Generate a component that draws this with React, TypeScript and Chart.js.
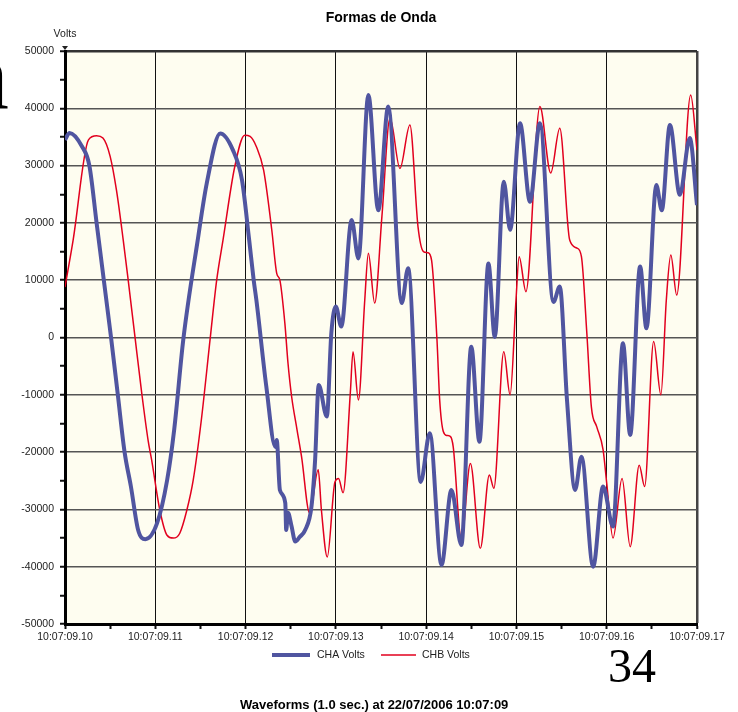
import React, { useEffect, useRef } from "react";
import { Chart, registerables } from "chart.js";

Chart.register(...registerables);

// time offsets in ms from 10:07:09.10
const chaTimes = [0, 0.5, 1.9, 2.7, 3.5, 4.3, 5.1, 5.85, 6.6, 7.3, 8.1, 8.9, 10.2, 11.3, 12.1, 13.1, 14.7, 15.7, 17.2, 18.6, 19.6, 20.4, 20.9, 21.2, 22.3, 23.3, 23.45, 23.8, 24.4, 24.5, 24.7, 25.1, 25.5, 26.0, 26.6, 27.3, 27.7, 28.1, 29.0, 29.5, 30.0, 30.6, 31.75, 32.5, 33.6, 34.7, 35.8, 37.3, 38.0, 39.4, 40.4, 41.7, 42.8, 43.9, 45.0, 45.9, 46.9, 47.6, 48.6, 49.3, 50.4, 51.5, 52.6, 54.1, 54.8, 55.6, 56.5, 57.2, 58.5, 59.6, 60.7, 61.8, 62.6, 63.7, 64.4, 65.5, 66.1, 67.0, 68.1, 69.2, 70];
const chaVolts = [34500, 35700, 33300, 30000, 20000, 10000, 0, -10000, -20000, -26000, -33600, -35200, -32400, -25000, -16000, -400, 17000, 26900, 35600, 32700, 27500, 17000, 10000, 6500, -8600, -19100, -17900, -26600, -28900, -33600, -30600, -33000, -35600, -34800, -33600, -29500, -21400, -8300, -13800, 800, 5400, 1900, 20500, 13800, 42300, 22200, 40300, 6000, 12100, -25200, -16700, -39700, -26600, -36200, -1600, -18200, 12900, 100, 27200, 18800, 37400, 23700, 37400, 6200, 8900, -10900, -26600, -20800, -40000, -26000, -33000, -1000, -17000, 12400, 1600, 26600, 22200, 37100, 24900, 34800, 23100];

const chbTimes = [0, 0.9, 2.6, 3.5, 4.2, 5.0, 5.7, 6.45, 7.0, 7.75, 8.5, 9.2, 9.6, 10.5, 11.3, 12.0, 12.7, 13.5, 14.2, 15.1, 16.1, 16.8, 17.5, 18.8, 19.9, 20.5, 21.2, 22.0, 22.9, 23.45, 23.8, 24.35, 24.7, 25.1, 25.7, 26.2, 27.1, 28.05, 28.4, 29.05, 29.9, 30.3, 30.8, 31.6, 31.9, 32.5, 33.2, 33.6, 34.3, 35.1, 36.0, 37.1, 38.2, 39.1, 39.7, 40.2, 40.6, 41.2, 41.5, 41.9, 42.3, 42.7, 43.0, 43.9, 44.9, 46.0, 47.0, 47.5, 48.6, 49.3, 49.95, 50.3, 51.05, 52.6, 53.8, 54.8, 55.9, 56.7, 57.2, 57.8, 58.3, 58.9, 59.6, 60.0, 60.7, 61.7, 62.6, 63.6, 64.2, 65.2, 66.0, 66.6, 67.1, 67.75, 69.3, 70];
const chbVolts = [8800, 17000, 34500, 35200, 34800, 31600, 25700, 17000, 10000, 100, -9700, -17900, -21400, -30100, -34500, -35000, -34200, -30100, -24900, -14400, 100, 10000, 17000, 29800, 35300, 35100, 33300, 29200, 18800, 11200, 10000, 2500, -4500, -10300, -16100, -20800, -30700, -23100, -30100, -38300, -25200, -24600, -27100, -9700, -2500, -10900, 6500, 14700, 6000, 21100, 38300, 29500, 37100, 19300, 15000, 14800, 13500, -400, -10900, -16400, -17100, -17300, -19100, -35300, -22000, -36800, -24000, -26300, -2500, -10000, 6500, 14100, 8000, 40300, 28700, 36500, 17000, 15600, 14100, 700, -12100, -15600, -19600, -25400, -35000, -24600, -36500, -22300, -26000, -700, -10000, 6500, 14400, 7400, 42300, 32700];

const xTickLabels = ["10:07:09.10", "10:07:09.11", "10:07:09.12", "10:07:09.13", "10:07:09.14", "10:07:09.15", "10:07:09.16", "10:07:09.17"];
const seriesNames = ["CHA Volts", "CHB Volts"];
const seriesColors = ["#5055A0", "#E2001E"];
const chartTitle = "Formas de Onda";
const yAxisTitle = "Volts";
const footerText = "Waveforms (1.0 sec.) at 22/07/2006 10:07:09";
const pageNumber = "34";

const toPoints = (xs: number[], ys: number[]) => xs.map((x, i) => ({ x, y: ys[i] }));

export default function App() {
  const ref = useRef<HTMLCanvasElement | null>(null);

  useEffect(() => {
    if (!ref.current) return;
    const decor = {
      id: "decor",
      beforeDraw(chart: any) {
        const { ctx, chartArea } = chart;
        ctx.save();
        ctx.fillStyle = "#FEFDF0";
        ctx.fillRect(chartArea.left, chartArea.top, chartArea.right - chartArea.left, chartArea.bottom - chartArea.top);
        ctx.restore();
      },
      afterDraw(chart: any) {
        const { ctx, chartArea } = chart;
        const cx = (chartArea.left + chartArea.right) / 2;
        ctx.save();
        // title
        ctx.fillStyle = "#000";
        ctx.textAlign = "center";
        ctx.textBaseline = "middle";
        ctx.font = "bold 14px 'Liberation Sans', Arial, sans-serif";
        ctx.fillText(chartTitle, cx, 18);
        // y axis title
        ctx.font = "10.5px 'Liberation Sans', Arial, sans-serif";
        ctx.fillStyle = "#222";
        ctx.fillText(yAxisTitle, chartArea.left, 34);
        // small arrow at top of y axis
        ctx.fillStyle = "#222";
        ctx.beginPath();
        ctx.moveTo(chartArea.left - 3, chartArea.top - 5);
        ctx.lineTo(chartArea.left + 3, chartArea.top - 5);
        ctx.lineTo(chartArea.left, chartArea.top - 1);
        ctx.closePath();
        ctx.fill();
        // legend
        const ly = 655;
        const items = [
          { x0: 272, x1: 310, tx: 317, w: 4 },
          { x0: 381, x1: 416, tx: 422, w: 1.5 },
        ];
        items.forEach((it, i) => {
          ctx.strokeStyle = seriesColors[i];
          ctx.lineWidth = it.w;
          ctx.beginPath();
          ctx.moveTo(it.x0, ly);
          ctx.lineTo(it.x1, ly);
          ctx.stroke();
          ctx.fillStyle = "#222";
          ctx.textAlign = "left";
          ctx.textBaseline = "middle";
          ctx.font = "10.5px 'Liberation Sans', Arial, sans-serif";
          ctx.fillText(seriesNames[i], it.tx, ly);
        });
        // page number
        ctx.fillStyle = "#000";
        ctx.textBaseline = "alphabetic";
        ctx.textAlign = "left";
        ctx.font = "48px 'Liberation Serif', 'Times New Roman', serif";
        ctx.fillText(pageNumber, 608, 682);
        // cut-off glyph at left edge
        ctx.font = "98px 'Liberation Serif', 'Times New Roman', serif";
        ctx.fillText("n", -40, 108);
        // footer
        ctx.font = "bold 13px 'Liberation Sans', Arial, sans-serif";
        ctx.textAlign = "left";
        ctx.fillText(footerText, 240, 709);
        ctx.restore();
      },
    };

    const chart = new Chart(ref.current, {
      type: "line",
      data: {
        datasets: [
          {
            label: seriesNames[0],
            data: toPoints(chaTimes, chaVolts),
            borderColor: seriesColors[0],
            borderWidth: 4,
            pointRadius: 0,
            cubicInterpolationMode: "monotone",
            fill: false,
          },
          {
            label: seriesNames[1],
            data: toPoints(chbTimes, chbVolts),
            borderColor: seriesColors[1],
            borderWidth: 1.5,
            pointRadius: 0,
            cubicInterpolationMode: "monotone",
            fill: false,
          },
        ],
      },
      options: {
        responsive: false,
        animation: false,
        layout: { padding: { left: 0, top: 51, right: 41, bottom: 0 } },
        plugins: {
          legend: { display: false },
          title: { display: false },
          tooltip: { enabled: false },
        },
        scales: {
          x: {
            type: "linear",
            min: 0,
            max: 70,
            afterFit: (s: any) => {
              s.height = 88;
            },
            ticks: {
              stepSize: 5,
              autoSkip: false,
              maxRotation: 0,
              padding: 2,
              color: "#222",
              font: { family: "'Liberation Sans', Arial, sans-serif", size: 10.5 },
              callback: (v: any) => {
                const n = Math.round(Number(v));
                return n % 10 === 0 ? xTickLabels[n / 10] : "";
              },
            },
            grid: {
              color: (c: any) => {
                const n = Math.round(c.tick ? c.tick.value : 0);
                if (n % 10 !== 0) return "rgba(0,0,0,0)";
                return n === 70 ? "#444" : "#111";
              },
              lineWidth: (c: any) => (c.tick && Math.round(c.tick.value) === 70 ? 2.5 : 1),
              tickColor: "#111",
              tickLength: 5,
              tickWidth: 2,
            },
            border: { display: true, color: "#000", width: 3 },
          },
          y: {
            type: "linear",
            min: -50000,
            max: 50000,
            afterFit: (s: any) => {
              s.width = 65;
            },
            ticks: {
              stepSize: 5000,
              autoSkip: false,
              padding: 6,
              color: "#222",
              font: { family: "'Liberation Sans', Arial, sans-serif", size: 10.5 },
              callback: (v: any) => {
                const n = Math.round(Number(v));
                return n % 10000 === 0 ? String(n) : "";
              },
            },
            grid: {
              color: (c: any) => {
                const n = Math.round(c.tick ? c.tick.value : 0);
                if (n % 10000 !== 0) return "rgba(0,0,0,0)";
                return n === 50000 ? "#333" : "#555";
              },
              lineWidth: (c: any) => (c.tick && Math.round(c.tick.value) === 50000 ? 2.5 : 1.5),
              tickColor: "#111",
              tickLength: 5,
              tickWidth: 2,
            },
            border: { display: true, color: "#000", width: 3 },
          },
        },
      },
      plugins: [decor],
    } as any);

    return () => chart.destroy();
  }, []);

  return (
    <div style={{ position: "fixed", left: 0, top: 0, width: 738, height: 712, background: "#fff" }}>
      <canvas ref={ref} width={738} height={712} style={{ display: "block" }} />
    </div>
  );
}
